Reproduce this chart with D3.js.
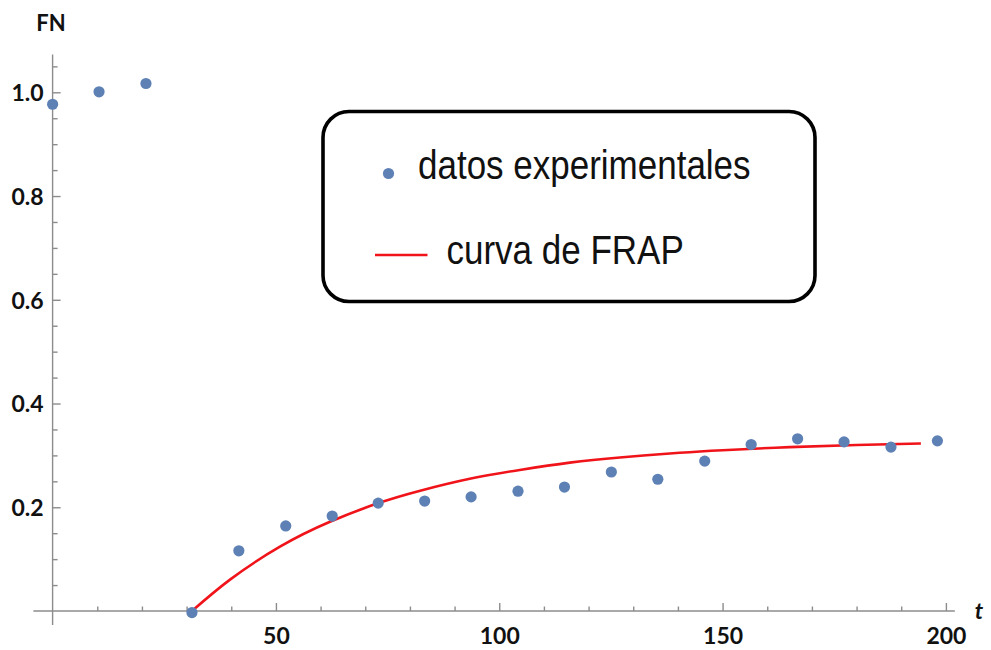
<!DOCTYPE html>
<html>
<head>
<meta charset="utf-8">
<script src="https://cdn.jsdelivr.net/npm/d3@7"></script>
<style>
  html, body { margin: 0; padding: 0; background: #fff; }
  svg { display: block; }
</style>
</head>
<body>
<svg id="chart" width="991" height="650"></svg>
<script>
// Experimental normalised fluorescence (FN) over time t
const timePoints = [0, 10.4, 20.9, 31.2, 41.7, 52.2, 62.6, 72.9, 83.3, 93.7, 104.2, 114.6, 125.1, 135.5, 146.0, 156.4, 166.8, 177.2, 187.7, 198.1];
const fnValues   = [0.977, 1.001, 1.017, -0.003, 0.116, 0.164, 0.183, 0.208, 0.212, 0.220, 0.231, 0.239, 0.268, 0.254, 0.289, 0.321, 0.332, 0.326, 0.316, 0.328];

// FRAP recovery curve samples
const curveT  = [31.2, 39.8, 50.9, 62.1, 73.3, 82.3, 93.4, 104.6, 115.8, 127.0, 140.4, 150, 165, 180, 194.4];
const curveFN = [0, 0.061, 0.124, 0.172, 0.209, 0.232, 0.255, 0.272, 0.286, 0.296, 0.305, 0.310, 0.316, 0.320, 0.323];

// Axis ticks
const xMajorTicks = [50, 100, 150, 200];
const xMinorTicks = [10, 20, 30, 40, 60, 70, 80, 90, 110, 120, 130, 140, 160, 170, 180, 190];
const yMajorTicks = [0.2, 0.4, 0.6, 0.8, 1.0];
const yMinorTicks = [0.05, 0.1, 0.15, 0.25, 0.3, 0.35, 0.45, 0.5, 0.55, 0.65, 0.7, 0.75, 0.85, 0.9, 0.95, 1.05];

const legendLabels = ["datos experimentales", "curva de FRAP"];

const pointColor = "#5e81b5";
const curveColor = "#f0141a";
const axisColor = "#8c8c8c";
const labelFont = "Lato, 'DejaVu Sans', sans-serif";

const svg = d3.select("#chart");

const x = d3.scaleLinear().domain([0, 200]).range([52.6, 945.9]);
const y = d3.scaleLinear().domain([0, 1]).range([611, 92.3]);

// ---- Axes ----
const axes = svg.append("g");

// x axis line
axes.append("line")
  .attr("x1", x(-4.3)).attr("x2", x(202))
  .attr("y1", y(0)).attr("y2", y(0))
  .attr("stroke", axisColor).attr("stroke-width", 1.4);

// y axis line
axes.append("line")
  .attr("x1", x(0)).attr("x2", x(0))
  .attr("y1", y(-0.027)).attr("y2", y(1.073))
  .attr("stroke", axisColor).attr("stroke-width", 1.4);

// x minor ticks
const gxMinor = axes.append("g").attr("transform", `translate(0,${y(0)})`)
  .call(d3.axisBottom(x).tickValues(xMinorTicks).tickSize(-4.5).tickFormat(""));
// x major ticks with labels
const gxMajor = axes.append("g").attr("transform", `translate(0,${y(0)})`)
  .call(d3.axisBottom(x).tickValues(xMajorTicks).tickSize(-8).tickFormat(d3.format("d")));

// y minor ticks
const gyMinor = axes.append("g").attr("transform", `translate(${x(0)},0)`)
  .call(d3.axisLeft(y).tickValues(yMinorTicks).tickSize(-5).tickFormat(""));
// y major ticks with labels
const gyMajor = axes.append("g").attr("transform", `translate(${x(0)},0)`)
  .call(d3.axisLeft(y).tickValues(yMajorTicks).tickSize(-8).tickFormat(d3.format(".1f")));

[gxMinor, gxMajor, gyMinor, gyMajor].forEach(g => {
  g.select(".domain").remove();
  g.selectAll(".tick line").attr("stroke", axisColor).attr("stroke-width", 1.4);
});

gxMajor.selectAll(".tick text")
  .attr("y", 32.5).attr("dy", null)
  .attr("fill", "#111")
  .style("font-family", labelFont).style("font-weight", 700).style("font-size", "23px")
  .attr("text-anchor", "middle");

gyMajor.selectAll(".tick text")
  .attr("x", -9).attr("dy", "0.36em")
  .attr("fill", "#111")
  .style("font-family", labelFont).style("font-weight", 700).style("font-size", "23px")
  .attr("text-anchor", "end");

// axis titles
svg.append("text")
  .attr("x", 51).attr("y", 31)
  .attr("text-anchor", "middle")
  .attr("fill", "#111")
  .style("font-family", labelFont).style("font-weight", 700).style("font-size", "22px")
  .text("FN");

svg.append("text")
  .attr("x", 979).attr("y", 619)
  .attr("text-anchor", "middle")
  .attr("fill", "#111")
  .style("font-family", labelFont).style("font-weight", 700).style("font-style", "italic").style("font-size", "23px")
  .text("t");

// ---- FRAP curve ----
const curveData = curveT.map((t, i) => ({ t, v: curveFN[i] }));
svg.append("path")
  .datum(curveData)
  .attr("fill", "none")
  .attr("stroke", curveColor)
  .attr("stroke-width", 2.6)
  .attr("d", d3.line().x(d => x(d.t)).y(d => y(d.v)).curve(d3.curveNatural));

// ---- Experimental points ----
const pts = timePoints.map((t, i) => ({ t, v: fnValues[i] }));
svg.append("g").selectAll("circle")
  .data(pts).join("circle")
  .attr("cx", d => x(d.t))
  .attr("cy", d => y(d.v))
  .attr("r", 5.6)
  .attr("fill", pointColor);

// ---- Legend ----
const legend = svg.append("g");
legend.append("rect")
  .attr("x", 323).attr("y", 111.5)
  .attr("width", 492).attr("height", 190)
  .attr("rx", 26).attr("ry", 26)
  .attr("fill", "#fff")
  .attr("stroke", "#000")
  .attr("stroke-width", 3.6);

legend.append("circle")
  .attr("cx", 388.5).attr("cy", 173.5).attr("r", 5.6)
  .attr("fill", pointColor);

legend.append("line")
  .attr("x1", 375).attr("x2", 427.5)
  .attr("y1", 255).attr("y2", 255)
  .attr("stroke", curveColor).attr("stroke-width", 2.6);

const legendText = [
  { label: legendLabels[0], tx: 418, ty: 179 },
  { label: legendLabels[1], tx: 446.5, ty: 263.5 }
];
legend.selectAll("text.leg")
  .data(legendText).join("text")
  .attr("class", "leg")
  .attr("transform", d => `translate(${d.tx},${d.ty}) scale(1,1.14)`)
  .attr("fill", "#111")
  .style("font-family", "'Liberation Sans', Arial, sans-serif")
  .style("font-size", "35px")
  .text(d => d.label);
</script>
</body>
</html>
